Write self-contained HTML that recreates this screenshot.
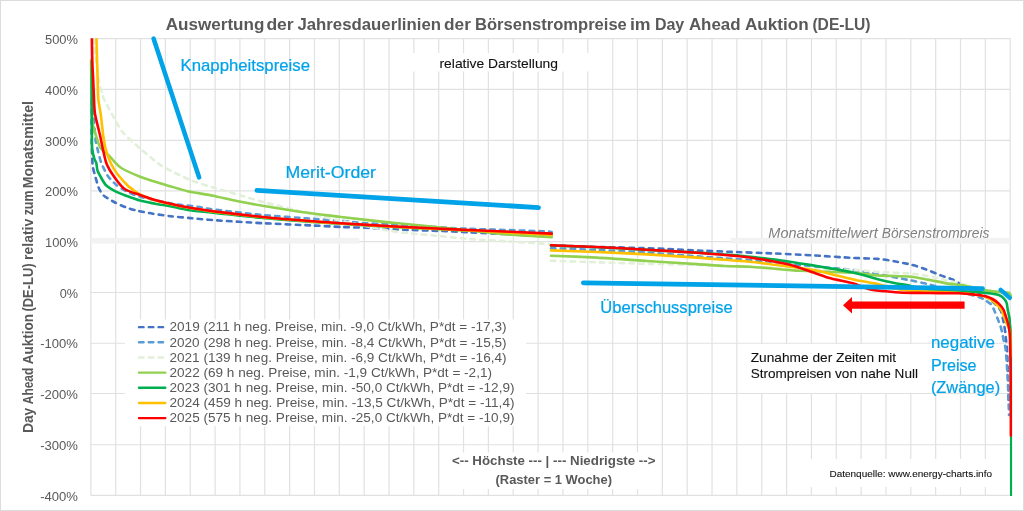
<!DOCTYPE html>
<html lang="de"><head><meta charset="utf-8">
<title>Auswertung der Jahresdauerlinien der Börsenstrompreise</title>
<style>
html,body{margin:0;padding:0;background:#fff;}
body{width:1024px;height:511px;overflow:hidden;}
svg{display:block;font-family:"Liberation Sans",sans-serif;}
.g{stroke:#e1e1e1;stroke-width:1.2;fill:none}
.c{fill:none;stroke-width:2.6;stroke-linejoin:round;stroke-linecap:round}
.d{stroke-dasharray:4.5 5.3;stroke-linecap:round}
.b{fill:none;stroke:#00a2e8;stroke-width:4.8;stroke-linecap:round}
.k{fill:#111;stroke:#111;stroke-width:0.1px}
.t{fill:#595959}
.bt{fill:#00a2e8;stroke:#00a2e8;stroke-width:0.22px}
</style></head><body>
<svg width="1024" height="511" viewBox="0 0 1024 511">
<rect x="0.5" y="0.5" width="1023" height="510" fill="#fff" stroke="#dcdcdc" stroke-width="1"/>
<g class="g">
<line x1="90.85" y1="38.60" x2="1010.20" y2="38.60"/>
<line x1="90.85" y1="89.47" x2="1010.20" y2="89.47"/>
<line x1="90.85" y1="140.45" x2="1010.20" y2="140.45"/>
<line x1="90.85" y1="190.96" x2="1010.20" y2="190.96"/>
<line x1="90.85" y1="241.55" x2="1010.20" y2="241.55"/>
<line x1="90.85" y1="292.49" x2="1010.20" y2="292.49"/>
<line x1="90.85" y1="343.25" x2="1010.20" y2="343.25"/>
<line x1="90.85" y1="393.50" x2="1010.20" y2="393.50"/>
<line x1="90.85" y1="444.75" x2="1010.20" y2="444.75"/>
<line x1="90.85" y1="495.40" x2="1010.20" y2="495.40"/>
<line x1="90.85" y1="38.60" x2="90.85" y2="495.40"/>
<line x1="115.70" y1="38.60" x2="115.70" y2="495.40"/>
<line x1="140.54" y1="38.60" x2="140.54" y2="495.40"/>
<line x1="165.39" y1="38.60" x2="165.39" y2="495.40"/>
<line x1="190.24" y1="38.60" x2="190.24" y2="495.40"/>
<line x1="215.09" y1="38.60" x2="215.09" y2="495.40"/>
<line x1="239.93" y1="38.60" x2="239.93" y2="495.40"/>
<line x1="264.78" y1="38.60" x2="264.78" y2="495.40"/>
<line x1="289.63" y1="38.60" x2="289.63" y2="495.40"/>
<line x1="314.48" y1="38.60" x2="314.48" y2="495.40"/>
<line x1="339.32" y1="38.60" x2="339.32" y2="495.40"/>
<line x1="364.17" y1="38.60" x2="364.17" y2="495.40"/>
<line x1="389.02" y1="38.60" x2="389.02" y2="495.40"/>
<line x1="413.86" y1="38.60" x2="413.86" y2="495.40"/>
<line x1="438.71" y1="38.60" x2="438.71" y2="495.40"/>
<line x1="463.56" y1="38.60" x2="463.56" y2="495.40"/>
<line x1="488.41" y1="38.60" x2="488.41" y2="495.40"/>
<line x1="513.25" y1="38.60" x2="513.25" y2="495.40"/>
<line x1="538.10" y1="38.60" x2="538.10" y2="495.40"/>
<line x1="562.95" y1="38.60" x2="562.95" y2="495.40"/>
<line x1="587.80" y1="38.60" x2="587.80" y2="495.40"/>
<line x1="612.64" y1="38.60" x2="612.64" y2="495.40"/>
<line x1="637.49" y1="38.60" x2="637.49" y2="495.40"/>
<line x1="662.34" y1="38.60" x2="662.34" y2="495.40"/>
<line x1="687.19" y1="38.60" x2="687.19" y2="495.40"/>
<line x1="712.03" y1="38.60" x2="712.03" y2="495.40"/>
<line x1="736.88" y1="38.60" x2="736.88" y2="495.40"/>
<line x1="761.73" y1="38.60" x2="761.73" y2="495.40"/>
<line x1="786.57" y1="38.60" x2="786.57" y2="495.40"/>
<line x1="811.42" y1="38.60" x2="811.42" y2="495.40"/>
<line x1="836.27" y1="38.60" x2="836.27" y2="495.40"/>
<line x1="861.12" y1="38.60" x2="861.12" y2="495.40"/>
<line x1="885.96" y1="38.60" x2="885.96" y2="495.40"/>
<line x1="910.81" y1="38.60" x2="910.81" y2="495.40"/>
<line x1="935.66" y1="38.60" x2="935.66" y2="495.40"/>
<line x1="960.51" y1="38.60" x2="960.51" y2="495.40"/>
<line x1="985.35" y1="38.60" x2="985.35" y2="495.40"/>
<line x1="1010.20" y1="38.60" x2="1010.20" y2="495.40"/>
</g>
<rect x="412" y="53" width="178" height="18.5" fill="#fff"/>
<rect x="125" y="319.5" width="401" height="106.7" fill="#fff"/>
<rect x="445" y="452.5" width="215" height="36.5" fill="#fff"/>
<rect x="740" y="343.9" width="208" height="49.0" fill="#fff"/>
<rect x="800" y="459" width="203" height="28" fill="#fff"/>
<text y="237.6" font-size="14.7" font-style="italic" fill="#7f7f7f"><tspan x="768.3" textLength="109.6" lengthAdjust="spacingAndGlyphs">Monatsmittelwert</tspan> <tspan x="881.8" textLength="107.6" lengthAdjust="spacingAndGlyphs">Börsenstrompreis</tspan></text>
<rect x="90.8" y="237.8" width="268.5" height="5.8" fill="#f2f2f2"/>
<rect x="730.5" y="237.8" width="279.7" height="5.8" fill="#f2f2f2"/>
<text class="t" y="30.1" font-size="16.7" font-weight="bold"><tspan x="165.7" textLength="98.7" lengthAdjust="spacingAndGlyphs">Auswertung</tspan> <tspan x="266.4" textLength="27.3" lengthAdjust="spacingAndGlyphs">der</tspan> <tspan x="297.4" textLength="143.6" lengthAdjust="spacingAndGlyphs">Jahresdauerlinien</tspan> <tspan x="444.0" textLength="26.9" lengthAdjust="spacingAndGlyphs">der</tspan> <tspan x="475.0" textLength="151.8" lengthAdjust="spacingAndGlyphs">Börsenstrompreise</tspan> <tspan x="629.9" textLength="20.7" lengthAdjust="spacingAndGlyphs">im</tspan> <tspan x="654.9" textLength="29.4" lengthAdjust="spacingAndGlyphs">Day</tspan> <tspan x="688.9" textLength="51.7" lengthAdjust="spacingAndGlyphs">Ahead</tspan> <tspan x="744.9" textLength="63.7" lengthAdjust="spacingAndGlyphs">Auktion</tspan> <tspan x="812.4" textLength="58.2" lengthAdjust="spacingAndGlyphs">(DE-LU)</tspan></text>
<text class="t" x="45.0" y="43.7" font-size="13.7" textLength="33.0" lengthAdjust="spacingAndGlyphs">500%</text>
<text class="t" x="45.0" y="94.6" font-size="13.7" textLength="33.0" lengthAdjust="spacingAndGlyphs">400%</text>
<text class="t" x="45.0" y="145.5" font-size="13.7" textLength="33.0" lengthAdjust="spacingAndGlyphs">300%</text>
<text class="t" x="45.0" y="196.1" font-size="13.7" textLength="33.0" lengthAdjust="spacingAndGlyphs">200%</text>
<text class="t" x="45.0" y="246.7" font-size="13.7" textLength="33.0" lengthAdjust="spacingAndGlyphs">100%</text>
<text class="t" x="59.7" y="297.6" font-size="13.7" textLength="18.3" lengthAdjust="spacingAndGlyphs">0%</text>
<text class="t" x="40.2" y="348.4" font-size="13.7" textLength="37.8" lengthAdjust="spacingAndGlyphs">-100%</text>
<text class="t" x="40.2" y="398.6" font-size="13.7" textLength="37.8" lengthAdjust="spacingAndGlyphs">-200%</text>
<text class="t" x="40.2" y="449.9" font-size="13.7" textLength="37.8" lengthAdjust="spacingAndGlyphs">-300%</text>
<text class="t" x="40.2" y="500.5" font-size="13.7" textLength="37.8" lengthAdjust="spacingAndGlyphs">-400%</text>
<text class="t" y="0" font-size="13.8" transform="translate(33.2,433) rotate(-90)" font-weight="bold"><tspan x="-0.1" textLength="25.4" lengthAdjust="spacingAndGlyphs">Day</tspan> <tspan x="28.8" textLength="36.4" lengthAdjust="spacingAndGlyphs">Ahead</tspan> <tspan x="68.7" textLength="50.4" lengthAdjust="spacingAndGlyphs">Auktion</tspan> <tspan x="121.4" textLength="48.2" lengthAdjust="spacingAndGlyphs">(DE-LU)</tspan> <tspan x="173.1" textLength="41.1" lengthAdjust="spacingAndGlyphs">relativ</tspan> <tspan x="217.7" textLength="24.7" lengthAdjust="spacingAndGlyphs">zum</tspan> <tspan x="244.7" textLength="87.3" lengthAdjust="spacingAndGlyphs">Monatsmittel</tspan></text>
<clipPath id="pa"><rect x="89.3" y="38.3" width="922.9" height="457.6"/></clipPath>
<g clip-path="url(#pa)">
<path class="c d" stroke="#4472c4" d="M91.6,100.0 C91.6,104.3 91.7,130.9 91.7,136.6 C91.7,142.3 91.8,146.4 91.9,149.0 C92.0,151.6 92.2,156.9 92.3,159.0 C92.4,161.1 92.5,164.9 92.8,166.8 C93.1,168.7 94.3,173.0 95.0,175.5 C95.7,178.0 97.8,185.7 98.8,188.0 C99.8,190.3 101.9,193.9 103.8,195.6 C105.7,197.3 112.4,201.1 115.0,202.5 C117.6,203.9 123.7,206.5 126.3,207.5 C128.9,208.5 134.5,210.1 137.6,210.8 C140.7,211.5 148.8,213.1 152.6,213.7 C156.4,214.3 165.8,215.7 170.2,216.2 C174.6,216.7 185.2,217.6 190.2,218.1 C195.2,218.6 204.5,219.5 213.0,220.1 C221.5,220.7 251.3,222.6 263.0,223.2 C274.7,223.8 303.9,225.1 313.0,225.5 C322.1,225.9 334.8,226.7 341.0,227.0 C347.2,227.3 359.4,227.5 366.0,227.8 C372.6,228.1 388.6,229.1 397.4,229.5 C406.2,229.9 432.8,230.7 441.2,231.0 C449.6,231.3 463.1,232.0 469.0,232.3 C474.9,232.6 481.9,233.1 491.5,233.5 C501.1,233.9 544.7,235.3 551.7,235.5"/>
<path class="c d" stroke="#4472c4" d="M551.0,245.4 C556.4,245.6 589.5,246.8 597.0,247.0 C604.5,247.2 610.0,247.2 615.0,247.3 C620.0,247.4 634.2,247.8 640.0,248.0 C645.8,248.2 657.4,248.6 664.6,248.9 C671.8,249.2 694.7,250.4 702.0,250.7 C709.3,251.0 719.0,251.4 727.5,251.7 C736.0,252.0 765.1,253.1 775.0,253.5 C784.9,253.9 803.6,254.9 812.7,255.4 C821.8,255.9 845.4,257.5 853.0,257.9 C860.6,258.3 873.2,258.5 878.0,258.9 C882.8,259.3 890.5,260.6 894.3,261.3 C898.1,262.0 906.9,263.6 910.6,264.5 C914.3,265.4 922.1,267.9 925.6,269.2 C929.1,270.5 937.5,274.2 940.7,275.4 C943.9,276.6 951.0,278.8 953.2,279.8 C955.4,280.8 957.5,282.5 959.5,283.6 C961.5,284.7 967.0,287.6 970.0,289.0 C973.0,290.4 982.3,294.5 985.0,296.0 C987.7,297.5 991.2,300.4 993.0,302.0 C994.8,303.6 999.3,308.2 1000.4,310.0 C1001.5,311.8 1002.2,316.0 1002.7,317.8 C1003.2,319.6 1004.0,323.9 1004.3,325.7 C1004.6,327.5 1005.2,331.7 1005.4,333.5 C1005.6,335.3 1006.0,339.5 1006.2,341.3 C1006.4,343.1 1006.9,344.5 1007.1,349.0 C1007.3,353.5 1008.0,374.1 1008.2,380.0 C1008.4,385.9 1008.6,397.7 1008.6,400.0"/>
<path class="c d" stroke="#5b9bd5" d="M91.5,60.0 C91.6,64.7 92.2,93.0 92.5,100.0 C92.8,107.0 93.4,115.3 93.8,120.0 C94.2,124.7 95.2,136.6 95.6,140.0 C96.0,143.4 97.1,147.1 97.5,149.0 C97.9,150.9 99.0,155.0 99.4,156.6 C99.8,158.2 100.4,160.8 101.3,163.0 C102.2,165.2 105.8,172.9 107.5,175.5 C109.2,178.1 114.1,183.1 116.3,184.9 C118.5,186.7 123.5,189.8 126.3,191.2 C129.1,192.6 134.7,195.3 140.1,196.8 C145.5,198.3 166.0,202.5 172.7,203.7 C179.4,204.9 193.0,206.1 197.7,206.8 C202.4,207.5 205.4,208.4 213.0,209.4 C220.6,210.4 251.3,213.9 263.0,215.0 C274.7,216.1 303.9,218.1 313.0,218.8 C322.1,219.5 334.8,220.2 341.0,220.7 C347.2,221.2 355.8,222.5 366.0,223.2 C376.2,223.9 416.7,225.9 428.7,226.6 C440.7,227.3 455.5,228.3 469.0,228.8 C482.5,229.3 534.4,230.9 544.0,231.3 C553.6,231.7 550.8,231.9 551.7,232.0"/>
<path class="c d" stroke="#5b9bd5" d="M551.0,248.2 C556.4,248.4 585.8,249.5 597.0,250.0 C608.2,250.5 635.3,251.9 647.0,252.6 C658.7,253.3 687.9,255.6 697.0,256.3 C706.1,257.0 715.9,257.6 725.0,258.3 C734.1,259.0 766.2,261.2 775.0,262.0 C783.8,262.8 793.4,264.3 800.0,265.0 C806.6,265.7 825.3,267.4 831.5,268.0 C837.7,268.6 847.6,269.3 853.0,270.0 C858.4,270.7 873.2,273.3 878.0,274.2 C882.8,275.1 890.5,276.6 894.3,277.3 C898.1,278.0 906.9,279.7 910.6,280.4 C914.3,281.1 923.0,283.0 925.6,283.6 C928.2,284.2 929.0,284.5 933.0,285.5 C937.0,286.5 954.5,290.6 960.0,292.0 C965.5,293.4 976.9,296.4 980.0,297.4 C983.1,298.4 985.0,300.1 986.3,300.9 C987.6,301.7 990.1,303.3 991.0,304.4 C991.9,305.5 993.4,308.4 994.1,310.0 C994.8,311.6 996.5,316.0 997.2,317.8 C997.9,319.6 999.8,323.9 1000.4,325.7 C1001.0,327.5 1001.9,331.7 1002.3,333.5 C1002.7,335.3 1003.5,339.5 1003.9,341.3 C1004.3,343.1 1005.2,345.7 1005.6,349.0 C1006.0,352.3 1006.9,365.2 1007.2,370.0 C1007.5,374.8 1008.0,384.8 1008.2,390.0 C1008.4,395.2 1008.9,412.1 1009.0,415.0"/>
<path class="c d" stroke="#e2f0d9" d="M94.5,38.5 C94.5,39.8 94.2,44.7 94.8,50.0 C95.4,55.3 98.5,78.6 99.4,83.8 C100.3,88.9 102.0,92.0 102.5,93.8 C103.0,95.5 102.3,96.0 103.8,99.0 C105.3,102.0 112.8,115.8 115.0,119.7 C117.2,123.6 119.7,128.8 122.6,132.2 C125.5,135.6 136.0,144.9 140.1,148.5 C144.2,152.1 154.1,160.4 157.6,163.0 C161.1,165.6 166.4,168.5 170.2,170.5 C174.0,172.5 185.2,178.0 190.2,180.0 C195.2,182.0 207.3,185.8 213.0,187.5 C218.7,189.2 233.2,193.2 239.3,195.0 C245.4,196.8 259.3,200.9 265.6,202.6 C271.9,204.3 286.8,207.8 293.2,209.4 C299.6,211.0 315.1,215.0 320.7,216.3 C326.3,217.6 333.8,219.2 341.0,220.7 C348.2,222.2 374.4,228.0 382.3,229.5 C390.2,231.0 401.7,232.4 408.6,233.2 C415.5,234.0 434.2,235.6 441.2,236.3 C448.2,237.0 461.4,238.4 469.0,239.0 C476.6,239.6 497.5,240.7 506.6,241.3 C515.7,241.9 541.4,243.5 546.7,243.8 C552.0,244.1 551.1,244.0 551.7,244.0"/>
<path class="c d" stroke="#e2f0d9" d="M551.0,260.7 C556.4,260.9 585.8,261.9 597.0,262.3 C608.2,262.7 635.3,263.5 647.0,263.8 C658.7,264.1 685.0,264.6 697.0,265.0 C709.0,265.4 738.0,266.5 750.0,267.0 C762.0,267.5 788.0,268.7 800.0,269.0 C812.0,269.3 843.9,269.5 853.0,269.8 C862.1,270.1 871.3,271.5 878.0,271.9 C884.7,272.3 904.8,273.1 910.6,273.6 C916.4,274.1 923.1,275.1 928.0,276.0 C932.9,276.9 948.9,280.7 953.0,281.7 C957.1,282.7 959.3,283.2 963.0,284.2 C966.7,285.2 980.7,289.1 985.0,290.0 C989.3,290.9 997.2,291.5 1000.0,292.0 C1002.8,292.5 1008.0,293.8 1009.0,294.0"/>
<path class="c" stroke="#92d050" d="M91.0,60.0 C91.1,64.7 91.3,92.7 91.5,100.0 C91.7,107.3 91.8,118.1 92.5,122.8 C93.2,127.5 96.5,137.2 97.5,140.3 C98.5,143.4 99.8,147.1 101.3,149.0 C102.8,150.9 108.4,155.0 110.0,156.6 C111.6,158.2 113.7,161.0 115.0,162.3 C116.3,163.6 118.4,166.3 121.3,168.0 C124.2,169.7 136.2,175.2 140.1,176.8 C144.0,178.4 151.6,180.7 155.1,181.8 C158.6,182.9 166.4,185.1 170.2,186.2 C174.0,187.3 182.7,190.1 187.7,191.2 C192.7,192.3 207.1,194.6 213.0,195.8 C218.9,197.0 231.9,200.1 238.0,201.3 C244.1,202.5 259.2,205.2 265.6,206.3 C272.0,207.4 286.8,209.7 293.2,210.7 C299.6,211.7 315.1,213.8 320.7,214.5 C326.3,215.2 332.8,216.1 341.0,217.0 C349.2,217.9 382.2,221.7 391.0,222.6 C399.8,223.5 410.2,224.4 416.0,225.0 C421.8,225.6 434.8,227.0 441.0,227.6 C447.2,228.2 461.3,229.7 469.0,230.5 C476.7,231.3 497.0,233.6 506.6,234.4 C516.2,235.2 546.4,237.0 551.7,237.3"/>
<path class="c" stroke="#92d050" d="M551.0,255.7 C556.4,255.9 585.8,257.0 597.0,257.6 C608.2,258.2 635.3,260.2 647.0,261.0 C658.7,261.8 687.9,263.5 697.0,264.1 C706.1,264.7 718.8,265.7 725.0,266.0 C731.2,266.3 744.2,266.4 750.0,266.7 C755.8,267.0 769.2,268.3 775.0,268.8 C780.8,269.3 790.9,270.3 800.0,270.8 C809.1,271.3 843.9,272.3 853.0,272.8 C862.1,273.3 871.3,274.9 878.0,275.4 C884.7,275.9 904.8,276.2 910.6,276.7 C916.4,277.2 923.6,278.8 928.0,279.6 C932.4,280.4 943.8,282.9 948.0,283.6 C952.2,284.3 959.6,284.7 964.0,285.5 C968.4,286.3 981.4,289.7 985.5,290.4 C989.6,291.1 996.0,291.6 998.8,291.9 C1001.6,292.2 1008.1,292.5 1009.5,293.1 C1010.9,293.7 1010.6,296.5 1010.8,297.0"/>
<path class="c" stroke="#00b050" d="M91.8,61.0 C91.8,65.4 91.8,90.2 91.8,99.0 C91.8,107.8 91.9,130.8 91.9,136.6 C91.9,142.4 91.9,146.4 92.2,149.0 C92.5,151.6 93.9,157.4 94.4,159.0 C94.9,160.6 95.9,161.7 96.3,163.0 C96.7,164.3 96.9,168.8 97.5,170.5 C98.1,172.2 100.3,176.2 101.3,178.0 C102.3,179.8 104.7,184.0 106.3,185.5 C107.9,187.0 112.7,190.0 115.0,191.2 C117.3,192.4 123.4,194.7 126.3,195.8 C129.2,196.9 136.7,199.7 140.1,200.6 C143.5,201.5 151.6,203.0 155.1,203.7 C158.6,204.4 166.4,205.5 170.2,206.2 C174.0,206.9 182.7,209.3 187.7,210.0 C192.7,210.7 204.2,211.7 213.0,212.6 C221.8,213.5 251.3,216.9 263.0,218.0 C274.7,219.1 303.9,221.3 313.0,222.0 C322.1,222.7 331.9,223.2 341.0,223.8 C350.1,224.4 379.3,226.2 391.0,226.8 C402.7,227.4 431.9,228.9 441.0,229.3 C450.1,229.7 456.1,230.0 469.0,230.5 C481.9,231.0 542.1,233.6 551.7,234.0"/>
<path class="c" stroke="#00b050" d="M551.0,245.5 C556.4,245.7 585.8,246.7 597.0,247.2 C608.2,247.7 635.3,249.3 647.0,249.9 C658.7,250.5 687.9,252.1 697.0,252.6 C706.1,253.1 720.3,254.2 725.0,254.5 C729.7,254.8 731.7,254.8 737.5,255.4 C743.3,256.0 766.2,258.3 775.0,259.5 C783.8,260.7 803.6,263.9 812.7,265.4 C821.8,266.9 845.4,271.0 853.0,272.6 C860.6,274.2 873.2,278.0 878.0,279.2 C882.8,280.4 890.9,282.3 894.3,283.0 C897.7,283.7 903.0,284.2 906.9,285.0 C910.8,285.8 923.2,289.3 928.0,290.0 C932.8,290.7 942.5,290.6 948.0,290.8 C953.5,291.0 970.3,291.6 975.3,291.9 C980.3,292.2 988.3,293.1 991.0,293.5 C993.7,293.9 997.3,294.5 998.8,295.0 C1000.3,295.5 1002.6,297.3 1003.5,298.2 C1004.4,299.1 1006.1,301.5 1006.6,302.9 C1007.1,304.3 1007.5,308.3 1007.8,310.0 C1008.1,311.7 1009.1,316.0 1009.4,317.8 C1009.7,319.6 1009.9,323.9 1010.1,325.7 C1010.3,327.5 1010.6,329.5 1010.7,333.5 C1010.8,337.5 1011.1,341.0 1011.2,360.0 C1011.3,379.0 1011.3,480.1 1011.3,496.0"/>
<path class="c" stroke="#ffc000" d="M96.5,38.5 C96.5,40.4 96.8,50.7 96.9,55.0 C97.0,59.3 97.3,69.9 97.5,75.0 C97.7,80.1 97.9,94.5 98.3,99.0 C98.7,103.5 100.1,109.8 100.7,114.0 C101.3,118.2 102.6,131.2 103.2,135.3 C103.8,139.4 104.8,145.8 105.7,149.0 C106.6,152.2 109.3,160.0 110.7,163.0 C112.1,166.0 115.6,171.7 117.6,174.3 C119.6,176.9 125.6,183.5 127.6,185.5 C129.6,187.5 133.4,190.0 135.1,191.2 C136.8,192.4 139.7,194.4 142.0,195.5 C144.3,196.6 151.5,199.2 155.1,200.3 C158.7,201.4 168.5,203.7 172.7,204.6 C176.9,205.5 186.8,207.5 191.5,208.3 C196.2,209.1 204.7,210.5 213.0,211.6 C221.3,212.7 251.3,216.1 263.0,217.3 C274.7,218.5 303.9,220.9 313.0,221.6 C322.1,222.3 331.9,222.9 341.0,223.5 C350.1,224.1 379.3,225.9 391.0,226.6 C402.7,227.3 431.9,228.7 441.0,229.2 C450.1,229.7 456.1,229.8 469.0,230.5 C481.9,231.2 542.1,234.5 551.7,235.0"/>
<path class="c" stroke="#ffc000" d="M551.0,250.4 C556.4,250.6 585.8,251.5 597.0,252.0 C608.2,252.5 635.3,253.7 647.0,254.4 C658.7,255.1 687.9,257.0 697.0,257.6 C706.1,258.2 718.8,259.3 725.0,259.8 C731.2,260.3 744.2,261.1 750.0,261.7 C755.8,262.3 767.7,263.9 775.0,264.8 C782.3,265.7 806.1,268.7 812.7,269.8 C819.3,270.9 826.8,273.1 831.5,274.2 C836.2,275.3 847.9,278.3 853.0,279.4 C858.1,280.5 871.2,282.7 875.5,283.6 C879.8,284.5 886.8,286.8 890.0,287.5 C893.2,288.2 900.1,289.6 903.0,290.0 C905.9,290.4 908.4,290.4 915.0,290.8 C921.6,291.2 951.8,292.3 960.0,293.0 C968.2,293.7 980.9,295.3 985.0,296.5 C989.1,297.7 993.0,301.3 994.9,302.9 C996.8,304.5 1000.2,307.8 1001.5,310.0 C1002.8,312.2 1005.0,319.4 1006.0,322.0 C1007.0,324.6 1009.5,328.0 1010.0,332.0 C1010.5,336.0 1010.6,353.2 1010.7,356.0"/>
<path class="c" stroke="#ff0000" d="M91.9,38.5 C91.9,41.1 92.2,56.4 92.3,61.0 C92.4,65.6 92.9,73.2 93.1,77.6 C93.3,82.0 93.8,94.8 94.0,99.0 C94.2,103.2 94.3,109.8 95.0,114.0 C95.7,118.2 98.7,129.6 100.0,135.3 C101.3,141.0 104.5,158.0 106.3,163.0 C108.0,168.0 112.8,174.9 115.0,178.0 C117.2,181.1 122.1,187.3 125.0,189.3 C127.9,191.3 136.6,193.8 140.1,195.0 C143.6,196.2 151.3,198.9 155.1,200.0 C158.9,201.1 168.5,203.4 172.7,204.3 C176.9,205.2 186.8,207.2 191.5,208.0 C196.2,208.8 204.7,210.2 213.0,211.3 C221.3,212.4 251.3,215.8 263.0,217.0 C274.7,218.2 303.9,220.6 313.0,221.3 C322.1,222.0 331.9,222.6 341.0,223.2 C350.1,223.8 379.3,225.6 391.0,226.3 C402.7,227.0 431.9,228.4 441.0,228.8 C450.1,229.2 456.1,229.4 469.0,230.0 C481.9,230.6 542.1,233.2 551.7,233.6"/>
<path class="c" stroke="#ff0000" d="M551.0,245.3 C556.4,245.5 585.8,246.5 597.0,247.0 C608.2,247.5 635.3,249.0 647.0,249.7 C658.7,250.4 687.9,252.2 697.0,252.8 C706.1,253.4 718.8,254.5 725.0,255.0 C731.2,255.5 744.2,256.7 750.0,257.5 C755.8,258.3 770.0,260.8 775.0,261.7 C780.0,262.6 788.2,264.2 792.6,265.4 C797.0,266.6 808.2,270.8 812.7,272.3 C817.2,273.8 826.8,277.3 831.5,278.6 C836.2,279.9 848.6,282.1 853.0,283.3 C857.4,284.5 865.5,288.3 869.3,289.2 C873.1,290.1 881.7,290.9 885.6,291.3 C889.5,291.7 898.1,292.5 903.0,292.7 C907.9,292.9 921.4,292.9 928.0,293.0 C934.6,293.1 954.5,293.1 960.0,293.3 C965.5,293.5 972.3,294.4 975.3,294.7 C978.3,295.0 983.5,295.7 985.5,296.2 C987.5,296.7 990.9,298.1 992.5,299.0 C994.1,299.9 997.5,302.4 998.8,303.7 C1000.1,305.0 1002.9,308.5 1003.7,310.0 C1004.5,311.5 1005.3,314.7 1005.8,316.3 C1006.3,317.9 1007.7,322.1 1008.2,324.1 C1008.7,326.1 1009.5,330.6 1009.7,333.5 C1009.9,336.4 1010.2,342.4 1010.3,349.0 C1010.4,355.6 1010.7,379.9 1010.8,390.0 C1010.9,400.1 1010.9,430.2 1010.9,435.5"/>
</g>
<path class="b" style="stroke-width:4.6" d="M153.6,38.6 L199.1,177.4"/>
<path class="b" d="M257,190.3 L538.5,207.6"/>
<path class="b" d="M583.4,282.8 L982.5,288.6"/>
<path class="b" style="stroke-width:4.4" d="M1000.6,289.9 L1009.8,297.8"/>
<path fill="#ff0000" d="M964.6,301.4 L852,301.4 L852,297 L843,305.2 L852,313.4 L852,308.8 L964.6,308.8 Z"/>
<text class="bt" x="180.5" y="70.9" font-size="17" textLength="129.5" lengthAdjust="spacingAndGlyphs">Knappheitspreise</text>
<text class="bt" x="285.5" y="177.9" font-size="17" textLength="90.5" lengthAdjust="spacingAndGlyphs">Merit-Order</text>
<text class="bt" x="600.3" y="312.7" font-size="17.3" textLength="132.4" lengthAdjust="spacingAndGlyphs">Überschusspreise</text>
<text class="bt" x="930.9" y="347.9" font-size="17" textLength="64" lengthAdjust="spacingAndGlyphs">negative</text>
<text class="bt" x="930.9" y="370.6" font-size="17" textLength="45.7" lengthAdjust="spacingAndGlyphs">Preise</text>
<text class="bt" x="930.9" y="392.6" font-size="17" textLength="69.2" lengthAdjust="spacingAndGlyphs">(Zwänge)</text>
<text class="k" x="439.5" y="67.8" font-size="13.4" textLength="118.5" lengthAdjust="spacingAndGlyphs">relative Darstellung</text>
<text class="k" x="750.7" y="361.8" font-size="13.4" textLength="145.5" lengthAdjust="spacingAndGlyphs">Zunahme der Zeiten mit</text>
<text class="k" x="750.7" y="378.3" font-size="13.4" textLength="167.3" lengthAdjust="spacingAndGlyphs">Strompreisen von nahe Null</text>
<text class="k" x="829.5" y="476.5" font-size="9.7" textLength="162.5" lengthAdjust="spacingAndGlyphs">Datenquelle: www.energy-charts.info</text>
<text class="t" x="452" y="465.1" font-size="13.4" font-weight="bold" textLength="203.5" lengthAdjust="spacingAndGlyphs">&lt;-- Höchste --- | --- Niedrigste --&gt;</text>
<text class="t" x="495.5" y="483.7" font-size="13.4" font-weight="bold" textLength="116.5" lengthAdjust="spacingAndGlyphs">(Raster = 1 Woche)</text>
<line x1="139" y1="327.15" x2="165.3" y2="327.15" stroke="#4472c4" stroke-width="2.4" stroke-linecap="round" stroke-dasharray="4.6 5.15"/>
<text class="t" x="169.5" y="331.4" font-size="13.4" textLength="337.0" lengthAdjust="spacingAndGlyphs">2019 (211 h neg. Preise, min. -9,0 Ct/kWh, P*dt = -17,3)</text>
<line x1="139" y1="342.31" x2="165.3" y2="342.31" stroke="#5b9bd5" stroke-width="2.4" stroke-linecap="round" stroke-dasharray="4.6 5.15"/>
<text class="t" x="169.5" y="346.6" font-size="13.4" textLength="337.0" lengthAdjust="spacingAndGlyphs">2020 (298 h neg. Preise, min. -8,4 Ct/kWh, P*dt = -15,5)</text>
<line x1="139" y1="357.47" x2="165.3" y2="357.47" stroke="#e2f0d9" stroke-width="2.4" stroke-linecap="round" stroke-dasharray="4.6 5.15"/>
<text class="t" x="169.5" y="361.8" font-size="13.4" textLength="337.0" lengthAdjust="spacingAndGlyphs">2021 (139 h neg. Preise, min. -6,9 Ct/kWh, P*dt = -16,4)</text>
<line x1="139" y1="372.63" x2="165.3" y2="372.63" stroke="#92d050" stroke-width="2.4" stroke-linecap="round"/>
<text class="t" x="169.5" y="376.9" font-size="13.4" textLength="322.5" lengthAdjust="spacingAndGlyphs">2022 (69 h neg. Preise, min. -1,9 Ct/kWh, P*dt = -2,1)</text>
<line x1="139" y1="387.79" x2="165.3" y2="387.79" stroke="#00b050" stroke-width="2.4" stroke-linecap="round"/>
<text class="t" x="169.5" y="392.1" font-size="13.4" textLength="345.0" lengthAdjust="spacingAndGlyphs">2023 (301 h neg. Preise, min. -50,0 Ct/kWh, P*dt = -12,9)</text>
<line x1="139" y1="402.95" x2="165.3" y2="402.95" stroke="#ffc000" stroke-width="2.4" stroke-linecap="round"/>
<text class="t" x="169.5" y="407.2" font-size="13.4" textLength="345.0" lengthAdjust="spacingAndGlyphs">2024 (459 h neg. Preise, min. -13,5 Ct/kWh, P*dt = -11,4)</text>
<line x1="139" y1="418.11" x2="165.3" y2="418.11" stroke="#ff0000" stroke-width="2.4" stroke-linecap="round"/>
<text class="t" x="169.5" y="422.4" font-size="13.4" textLength="345.0" lengthAdjust="spacingAndGlyphs">2025 (575 h neg. Preise, min. -25,0 Ct/kWh, P*dt = -10,9)</text>
</svg>
</body></html>
